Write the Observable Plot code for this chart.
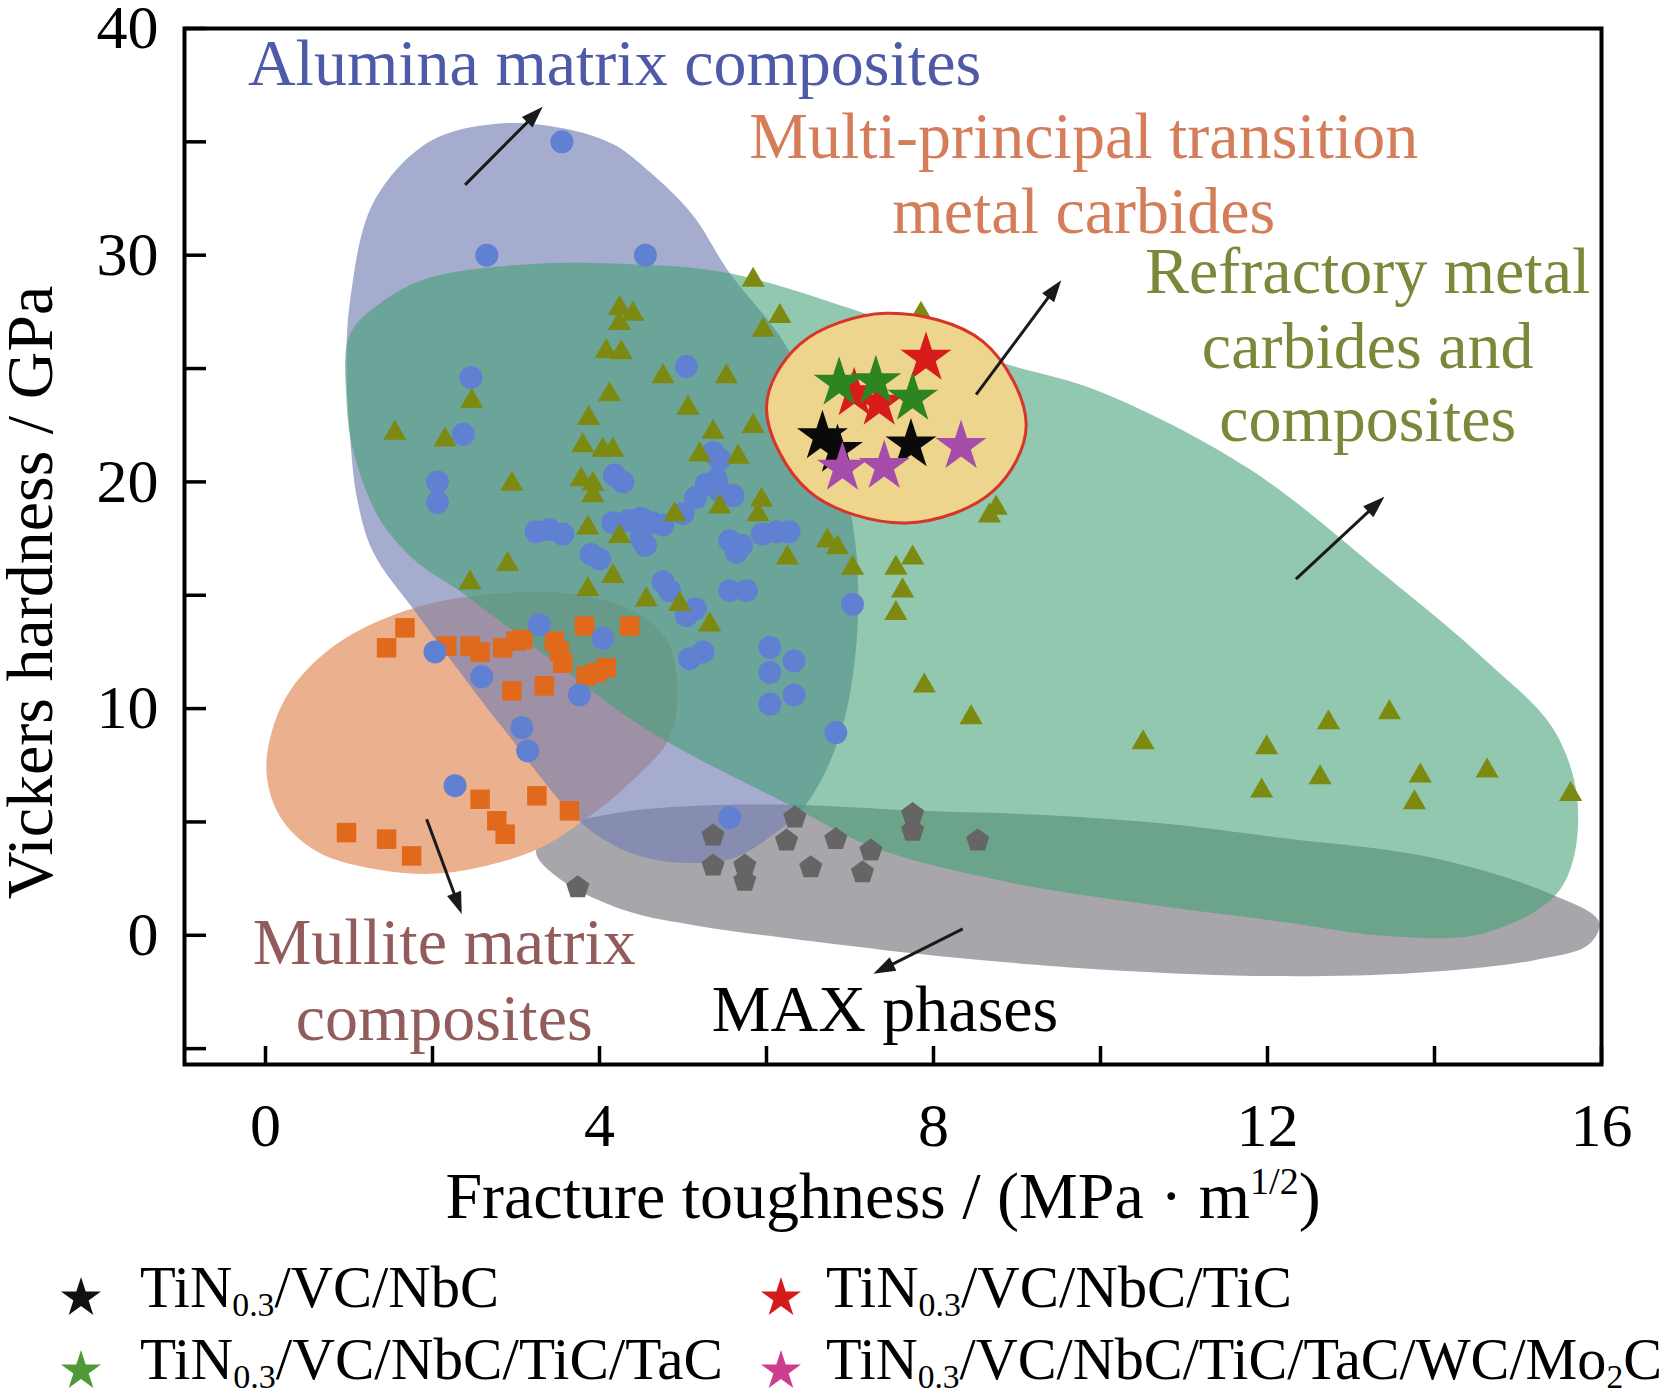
<!DOCTYPE html>
<html>
<head>
<meta charset="utf-8">
<script src="https://cdn.jsdelivr.net/npm/d3@7"></script>
<script src="https://cdn.jsdelivr.net/npm/@observablehq/plot@0.6"></script>
<style>
  html, body { margin: 0; padding: 0; background: #fff; }
  #wrap { width: 1671px; height: 1394px; overflow: hidden; background: #fff; }
  svg { display: block; }
</style>
</head>
<body>
<div id="wrap"></div>
<script>
// ---------- data: [fracture toughness, Vickers hardness] ----------
const aluminaPoints = [[3.55,35.0],[2.65,30.0],[4.55,30.0],[2.46,24.6],[2.37,22.1],[2.06,20.0],[2.06,19.1],[5.04,25.1],[4.18,20.3],[4.28,20.0],[3.24,17.8],[3.4,17.9],[3.56,17.7],[3.9,16.8],[4.0,16.6],[4.16,18.2],[4.35,18.3],[4.5,18.4],[4.63,18.2],[4.76,18.1],[4.5,17.5],[4.55,17.2],[4.76,15.6],[4.84,15.2],[5.04,14.1],[5.15,14.4],[5.08,12.2],[5.24,12.5],[5.0,18.6],[5.15,19.3],[5.28,19.9],[5.4,20.1],[5.44,19.6],[5.6,19.4],[5.36,21.3],[5.44,21.0],[5.56,17.4],[5.64,16.9],[5.7,17.2],[6.12,17.8],[6.27,17.8],[5.95,17.7],[5.56,15.2],[5.76,15.2],[7.03,14.6],[6.04,12.7],[6.04,11.6],[6.33,12.1],[6.33,10.6],[6.04,10.2],[6.83,8.94],[5.56,5.19],[2.03,12.5],[2.59,11.4],[3.28,13.7],[4.04,13.1],[3.76,10.6],[3.07,9.16],[3.14,8.13],[2.27,6.6]];
const refractoryPoints = [[4.24,27.66],[4.40,27.4],[4.24,27.0],[4.08,25.75],[4.26,25.7],[4.76,24.65],[2.47,23.55],[1.55,22.15],[2.15,21.86],[4.12,23.85],[3.87,22.8],[5.06,23.26],[5.36,22.2],[5.52,24.65],[3.80,21.6],[4.04,21.4],[4.16,21.4],[5.2,21.2],[2.95,19.9],[3.78,20.1],[3.92,19.9],[3.92,19.4],[4.9,18.56],[5.44,18.9],[3.86,17.97],[4.24,17.6],[5.84,28.9],[6.16,27.3],[5.96,26.7],[7.85,27.4],[5.84,22.45],[5.66,21.1],[5.94,19.2],[5.90,18.56],[6.73,17.4],[6.85,17.1],[6.25,16.65],[7.03,16.2],[7.75,16.65],[7.55,16.2],[7.63,15.2],[7.55,14.2],[8.67,18.5],[8.75,18.85],[5.32,13.7],[2.9,16.36],[2.45,15.55],[4.16,15.84],[3.86,15.26],[4.56,14.8],[4.96,14.6],[7.89,11.0],[8.45,9.6],[10.51,8.5],[11.99,8.28],[11.93,6.37],[12.73,9.38],[12.63,6.96],[13.46,9.82],[13.83,7.03],[13.76,5.85],[14.63,7.25],[15.63,6.22]];
const mullitePoints = [[1.67,13.56],[1.45,12.68],[2.17,12.76],[2.45,12.76],[2.57,12.5],[2.84,12.68],[3.0,12.98],[3.08,13.05],[3.46,12.98],[3.52,12.53],[3.56,12.0],[3.82,13.64],[4.36,13.64],[3.84,11.44],[3.96,11.58],[4.08,11.8],[2.95,10.78],[3.34,11.0],[2.57,6.0],[3.25,6.15],[2.77,5.05],[2.87,4.46],[3.64,5.49],[0.97,4.53],[1.45,4.24],[1.75,3.5]];
const maxPoints = [[3.74,2.11],[5.36,4.39],[5.36,3.07],[5.74,3.07],[5.74,2.4],[6.34,5.19],[6.24,4.17],[6.53,2.99],[6.83,4.24],[7.25,3.73],[7.15,2.77],[7.75,5.34],[7.75,4.61],[8.53,4.17]];
const starRed = [[7.05,23.9],[7.35,23.48],[7.91,25.46]];
const starGreen = [[6.87,24.36],[7.31,24.43],[7.75,23.7]];
const starBlack = [[6.67,22.0],[6.85,21.4],[7.73,21.64]];
const starPurple = [[6.91,20.61],[7.41,20.69],[8.33,21.57]];

// ---------- region outlines ----------
const maxRegion = [[3.24,3.71],[3.58,4.79],[4.22,5.4],[5.11,5.7],[6.39,5.75],[7.79,5.5],[9.38,5.3],[10.85,4.9],[12.13,4.31],[13.96,3.43],[15.34,1.9],[15.97,0.6],[15.85,-0.4],[15.2,-1.1],[13.8,-1.65],[12.1,-1.8],[10.2,-1.55],[8.3,-1.0],[6.3,-0.15],[5.2,0.4],[4.3,1.1],[3.5,2.55]];
const mulliteRegion = [[0.01,7.42],[0.22,10.33],[0.74,12.54],[1.57,14.18],[2.6,15.02],[3.77,15.02],[4.47,14.18],[4.81,13.0],[4.93,11.08],[4.84,8.73],[4.35,6.67],[3.76,4.93],[3.2,3.71],[2.21,2.77],[1.41,2.86],[0.61,3.71],[0.17,5.26]];
const aluminaRegion = [[2.77,35.8],[3.56,35.6],[4.16,34.9],[4.56,33.8],[5.11,31.8],[5.56,29.2],[6.2,26.2],[6.7,22.4],[7.02,18.4],[7.1,14.9],[7.02,11.1],[6.83,8.3],[6.48,5.8],[6.1,4.5],[5.6,3.4],[5.0,3.2],[4.4,3.6],[3.8,4.9],[2.82,9.25],[1.81,14.2],[1.29,16.9],[1.1,19.2],[1.01,22.1],[0.97,25.0],[1.01,27.9],[1.29,32.3],[1.96,35.0]];
const refractoryRegion = [[1.01,26.5],[1.38,27.9],[1.96,29.0],[3.16,29.6],[4.36,29.6],[5.56,29.2],[7.6,26.9],[8.78,25.3],[9.98,24.0],[11.77,20.6],[13.4,15.9],[14.62,12.1],[15.44,9.0],[15.72,5.5],[15.5,2.0],[14.6,0.1],[13.5,-0.05],[12.17,0.6],[10.5,1.4],[8.9,2.34],[7.27,3.89],[6.35,5.6],[4.6,9.0],[3.45,12.07],[2.32,15.2],[1.8,16.5],[1.36,18.4],[1.05,21.4],[0.97,23.6]];
const mptmcRegion = [[6.0,23.26],[6.395,26.06],[7.43,27.44],[8.59,26.2],[9.11,22.53],[8.71,19.58],[7.67,18.19],[6.51,19.58]];

// ---------- ticks ----------
const xTicks = [0,2,4,6,8,10,12,14,16];
const xTickLabels = [0,4,8,12,16];
const yTicks = [-5,0,5,10,15,20,25,30,35,40];
const yTickLabels = [0,10,20,30,40];

// ---------- annotations ----------
const annotationText = ["Alumina matrix composites","Multi-principal transition","metal carbides","Refractory metal","carbides and","composites","Mullite matrix","composites","MAX phases"];
const annotationX = [4.18,9.80,9.80,13.2,13.2,13.2,2.14,2.14,7.42];
const annotationY = [37.5,34.27,30.96,28.32,25.02,21.79,-1.28,-4.64,-4.22];
const annotationColor = ["#4e5aa8","#d57d58","#d57d58","#7a883a","#7a883a","#7a883a","#925c5c","#925c5c","#000000"];
// [x1, y1, x2 (tip), y2 (tip)]
const arrows = [[2.39,33.1,3.32,36.55],[8.51,23.85,9.53,28.9],[12.34,15.71,13.4,19.34],[1.93,5.12,2.35,0.94],[8.35,0.28,7.28,-1.7]];

// ---------- legend ----------
const legendNames = ["TiN_{0.3}/VC/NbC","TiN_{0.3}/VC/NbC/TiC","TiN_{0.3}/VC/NbC/TiC/TaC","TiN_{0.3}/VC/NbC/TiC/TaC/WC/Mo_{2}C"];
const legendColors = ["#111111","#d41b1b","#4f9a36","#cf3d8f"];

// ---------- layout ----------
const W = 1671, H = 1245, ML = 184, MR = 70, MT = 28, MB = 181;
const PW = W - ML - MR, PH = H - MT - MB;
const XD = [-0.97, 16], YD = [-5.7, 40];
const FX = d => d[0], FY = d => d[1];

const pentagon = {
  draw(ctx, size) {
    const r = Math.sqrt(size / 2.3776);
    for (let i = 0; i < 5; i++) {
      const a = -Math.PI / 2 + i * 2 * Math.PI / 5;
      const px = r * Math.cos(a), py = r * Math.sin(a);
      if (i) ctx.lineTo(px, py); else ctx.moveTo(px, py);
    }
    ctx.closePath();
  }
};
// filled arrow head with its tip at the origin, pointing up
const HEAD_L = 22, HEAD_W = 15;
const arrowHead = {
  draw(ctx) {
    ctx.moveTo(0, 0);
    ctx.lineTo(HEAD_W / 2, HEAD_L);
    ctx.lineTo(-HEAD_W / 2, HEAD_L);
    ctx.closePath();
  }
};
const kx = PW / (XD[1] - XD[0]), ky = PH / (YD[1] - YD[0]);
const arrowGeom = arrows.map(([x1, y1, x2, y2]) => {
  const sx = (x2 - x1) * kx, sy = -(y2 - y1) * ky;
  const len = Math.hypot(sx, sy), ux = sx / len, uy = sy / len;
  const back = HEAD_L * 0.6;
  return {x1, y1, x2, y2, xe: x2 - ux * back / kx, ye: y2 + uy * back / ky, rot: Math.atan2(ux, -uy) * 180 / Math.PI};
});

const region = (data, fill, opacity, extra = {}) =>
  Plot.line(data, {x: FX, y: FY, curve: "catmull-rom-closed", fill, fillOpacity: opacity, stroke: "none", ...extra});

const annotations = annotationText.map((t, i) => ({t, x: annotationX[i], y: annotationY[i], c: annotationColor[i]}));

const chart = Plot.plot({
  width: W, height: H,
  marginLeft: ML, marginRight: MR, marginTop: MT, marginBottom: MB,
  x: {domain: XD},
  y: {domain: YD},
  color: {type: "identity"},
  style: {fontFamily: "Liberation Serif, 'Times New Roman', serif", fontSize: "62px", background: "white", color: "black", overflow: "visible"},
  marks: [
    region(maxRegion, "rgb(168,166,170)", 1),
    region(mulliteRegion, "rgb(235,177,142)", 1),
    region(aluminaRegion, "rgb(117,128,180)", 0.65),
    region(refractoryRegion, "rgb(66,160,117)", 0.58),
    Plot.dot(maxPoints, {x: FX, y: FY, symbol: pentagon, r: 10.6, fill: "#656565", stroke: "none"}),
    Plot.dot(mullitePoints, {x: FX, y: FY, symbol: "square", r: 11, fill: "#e0691c", stroke: "none"}),
    Plot.dot(aluminaPoints, {x: FX, y: FY, symbol: "circle", r: 11.5, fill: "#6080d2", stroke: "none"}),
    Plot.dot(refractoryPoints, {x: FX, y: FY, symbol: "triangle", r: 8.6, fill: "#7d8a12", stroke: "none"}),
    region(mptmcRegion, "#eed58d", 1, {stroke: "#d8342a", strokeWidth: 3}),
    Plot.dot(starRed, {x: FX, y: FY, symbol: "star", r: 16, fill: "#d81b1b", stroke: "none"}),
    Plot.dot(starGreen, {x: FX, y: FY, symbol: "star", r: 16, fill: "#2e8420", stroke: "none"}),
    Plot.dot(starBlack, {x: FX, y: FY, symbol: "star", r: 16, fill: "#0a0a0a", stroke: "none"}),
    Plot.dot(starPurple, {x: FX, y: FY, symbol: "star", r: 16, fill: "#a64caa", stroke: "none"}),
    Plot.link(arrowGeom, {x1: "x1", y1: "y1", x2: "xe", y2: "ye", stroke: "#1a1a1a", strokeWidth: 3}),
    Plot.dot(arrowGeom, {x: "x2", y: "y2", rotate: "rot", symbol: arrowHead, r: 10, fill: "#1a1a1a", stroke: "none"}),
    Plot.text(annotations, {x: "x", y: "y", text: "t", fill: "c", fontSize: 66, lineAnchor: "bottom", textAnchor: "middle"}),
    Plot.tickX(xTicks, {x: d => d, insetTop: PH - 18, stroke: "black", strokeWidth: 3.5}),
    Plot.tickY(yTicks, {y: d => d, insetRight: PW - 22, stroke: "black", strokeWidth: 3.5}),
    Plot.frame({stroke: "black", strokeWidth: 4}),
    Plot.axisX({ticks: xTickLabels, tickSize: 0, tickPadding: 37, fontSize: 62, label: null, tickFormat: d => String(d)}),
    Plot.axisY({ticks: yTickLabels, tickSize: 0, tickPadding: 26, fontSize: 62, label: null, tickFormat: d => String(d)}),
    Plot.text(["Vickers hardness / GPa"], {text: d => d, frameAnchor: "left", textAnchor: "middle", rotate: -90, dx: -133, dy: 46, lineAnchor: "bottom", fontSize: 66, fill: "black"}),
    Plot.text(["Fracture toughness / (MPa · m)"], {text: d => d, frameAnchor: "bottom", textAnchor: "middle", dx: -10, dy: 153, lineAnchor: "bottom", fontSize: 66, fill: "black"})
  ]
});

// superscript 1/2 in x-axis title
const NS = "http://www.w3.org/2000/svg";
const xt = Array.from(chart.querySelectorAll("text")).find(e => e.textContent.startsWith("Fracture"));
if (xt) {
  xt.textContent = "";
  const a = document.createElementNS(NS, "tspan"); a.textContent = "Fracture toughness / (MPa · m"; xt.appendChild(a);
  const b = document.createElementNS(NS, "tspan"); b.textContent = "1/2"; b.setAttribute("font-size", "38"); b.setAttribute("dy", "-24"); xt.appendChild(b);
  const c = document.createElementNS(NS, "tspan"); c.textContent = ")"; c.setAttribute("dy", "24"); xt.appendChild(c);
}

const wrap = document.getElementById("wrap");
wrap.appendChild(chart);

// ---------- legend ----------
const LH = 1394 - H;
const leg = d3.create("svg").attr("width", W).attr("height", LH)
  .style("font-family", "Liberation Serif, 'Times New Roman', serif");
const starX = [81, 781], textX = [140, 826], starY = [53, 126], baseY = [62, 134];
const legendTextWidth = [359, 466, 583, 836];
const SUB_DY = 9;
legendNames.forEach((name, i) => {
  const col = i % 2, row = Math.floor(i / 2);
  leg.append("path").attr("d", d3.symbol(d3.symbolStar, 495)())
    .attr("transform", `translate(${starX[col]},${starY[row]})`).attr("fill", legendColors[i]);
  const t = leg.append("text").attr("x", textX[col]).attr("y", baseY[row]).attr("font-size", 59).attr("fill", "#000")
    .attr("textLength", legendTextWidth[i]).attr("lengthAdjust", "spacingAndGlyphs");
  const parts = name.split(/(_\{[^}]*\})/).filter(s => s.length);
  let pending = 0;
  parts.forEach(p => {
    if (p.startsWith("_{")) {
      t.append("tspan").attr("font-size", 34).attr("dy", SUB_DY - pending).text(p.slice(2, -1));
      pending = SUB_DY;
    } else {
      const s = t.append("tspan").text(p);
      if (pending) { s.attr("dy", -pending); pending = 0; }
    }
  });
});
wrap.appendChild(leg.node());
</script>
</body>
</html>
